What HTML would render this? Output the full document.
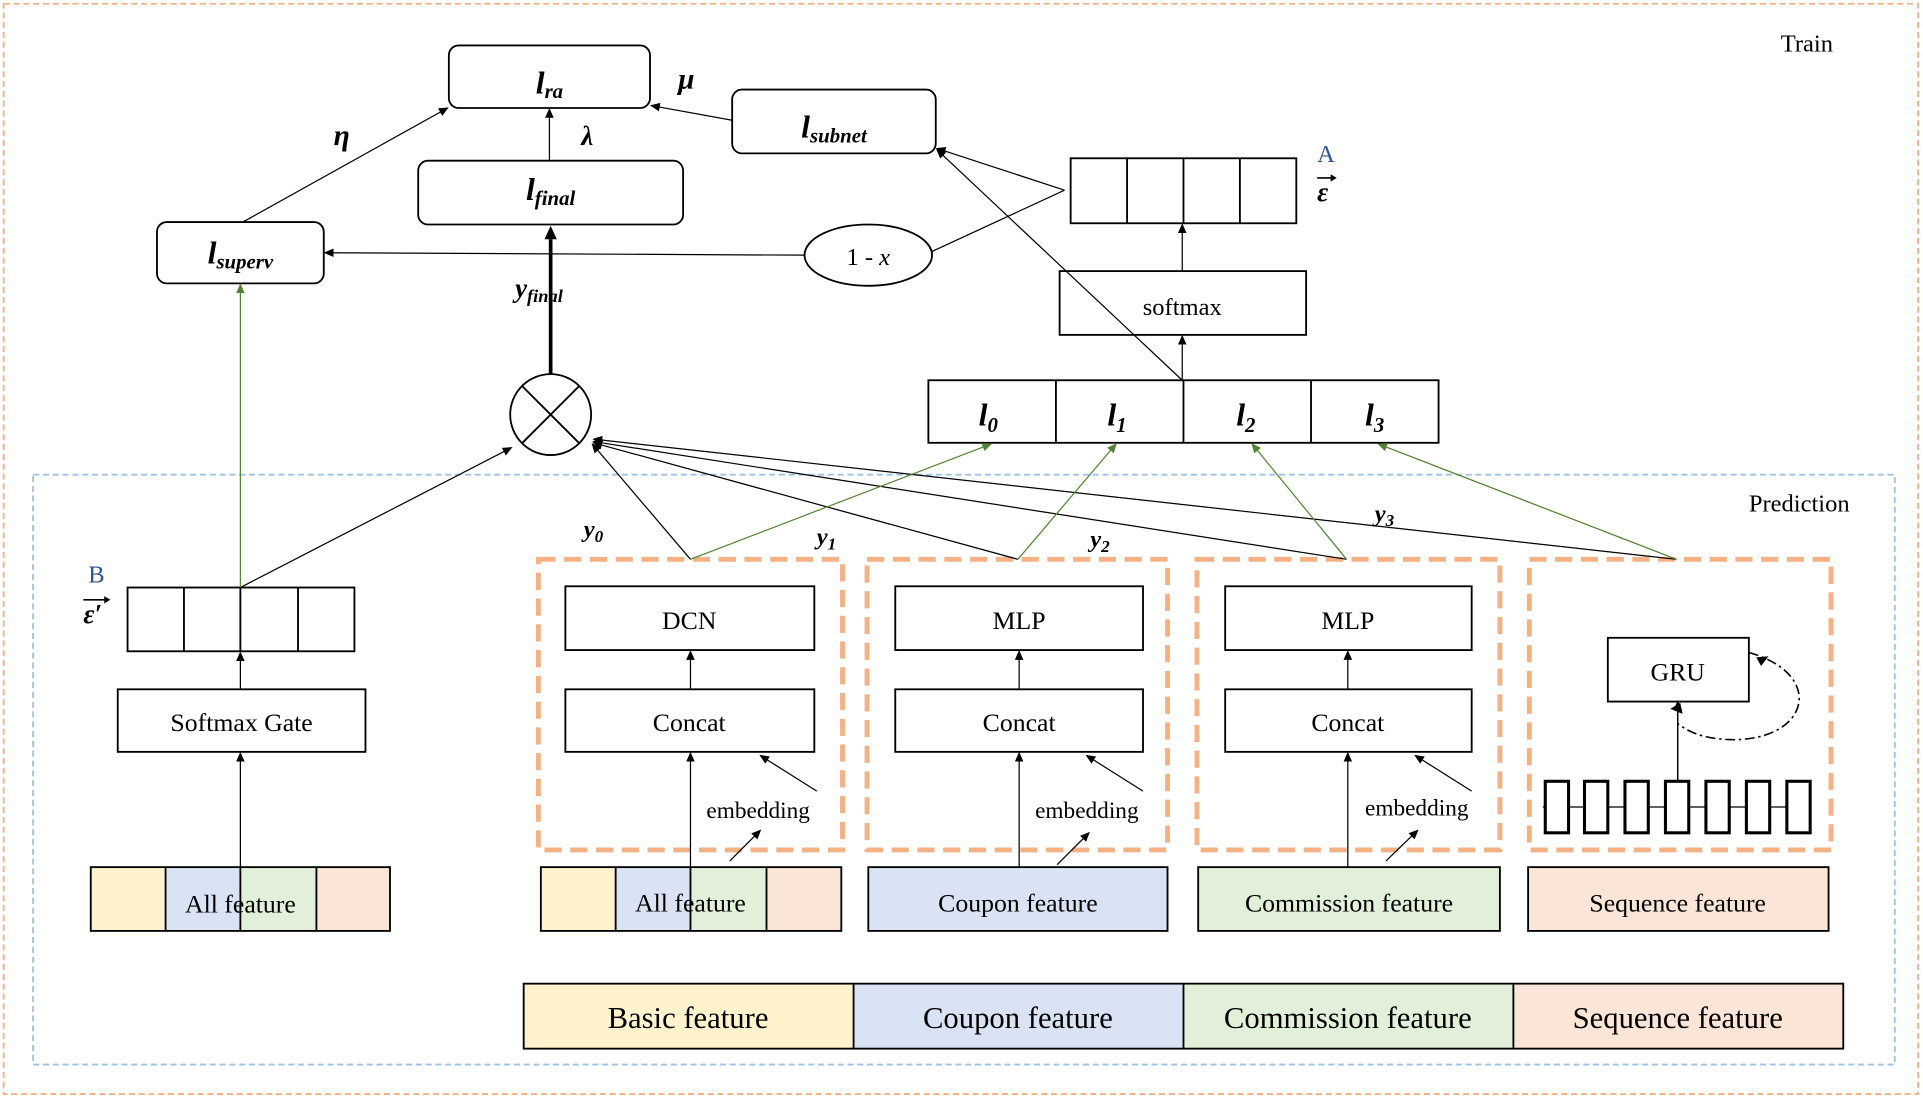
<!DOCTYPE html>
<html><head><meta charset="utf-8"><style>
html,body{margin:0;padding:0;background:#fff}
svg{display:block}
text{font-family:"Liberation Serif",serif;fill:#000}
.m{font-weight:bold;font-style:italic}
</style></head><body>
<svg width="1923" height="1099" viewBox="0 0 1568 896" xmlns="http://www.w3.org/2000/svg">
<defs>
<marker id="a" markerWidth="8" markerHeight="8" refX="7" refY="4" orient="auto" markerUnits="userSpaceOnUse"><path d="M0,0.5 L8,4 L0,7.5Z" fill="#000"/></marker>
<marker id="g" markerWidth="8" markerHeight="8" refX="7" refY="4" orient="auto" markerUnits="userSpaceOnUse"><path d="M0,0.5 L8,4 L0,7.5Z" fill="#548235"/></marker>
</defs>
<rect x="3" y="3" width="1561" height="889" fill="none" stroke="#f4b183" stroke-width="1.5" stroke-dasharray="5,3"/>
<rect x="27" y="387" width="1518" height="481" fill="none" stroke="#9dc3e6" stroke-width="1.5" stroke-dasharray="5,3"/>
<text x="1452" y="42" font-size="20">Train</text>
<text x="1426" y="417" font-size="20">Prediction</text>

<g fill="#fff" stroke="#000" stroke-width="1.5">
<rect x="366" y="37" width="164" height="51" rx="8"/>
<rect x="597" y="73" width="166" height="52" rx="8"/>
<rect x="341" y="131" width="216" height="52" rx="8"/>
<rect x="128" y="181" width="136" height="50" rx="8"/>
<ellipse cx="708" cy="208" rx="52" ry="25"/>
<rect x="873" y="129" width="184" height="53"/>
<rect x="864" y="221" width="201" height="52"/>
<rect x="757" y="310" width="416" height="51"/>
<rect x="104" y="479" width="185" height="52"/>
<rect x="96" y="562" width="202" height="51"/>
<rect x="461" y="478" width="203" height="52"/><rect x="461" y="562" width="203" height="51"/>
<rect x="730" y="478" width="202" height="52"/><rect x="730" y="562" width="202" height="51"/>
<rect x="999" y="478" width="201" height="52"/><rect x="999" y="562" width="201" height="51"/>
<rect x="1311" y="520" width="115" height="52"/>
</g>
<g stroke="#000" stroke-width="1.5">
<line x1="919" y1="129" x2="919" y2="182"/><line x1="965" y1="129" x2="965" y2="182"/><line x1="1011" y1="129" x2="1011" y2="182"/>
<line x1="861" y1="310" x2="861" y2="361"/><line x1="965" y1="310" x2="965" y2="361"/><line x1="1069" y1="310" x2="1069" y2="361"/>
<line x1="150" y1="479" x2="150" y2="531"/><line x1="196" y1="479" x2="196" y2="531"/><line x1="243" y1="479" x2="243" y2="531"/>
</g>
<circle cx="449" cy="338" r="33" fill="#fff" stroke="#000" stroke-width="1.5"/>
<line x1="426" y1="315" x2="472" y2="361" stroke="#000" stroke-width="1.5"/><line x1="472" y1="315" x2="426" y2="361" stroke="#000" stroke-width="1.5"/>

<text x="448" y="76" font-size="26" class="m" text-anchor="middle">l<tspan font-size="17" dy="4">ra</tspan></text>
<text x="680" y="112" font-size="26" class="m" text-anchor="middle">l<tspan font-size="17" dy="4">subnet</tspan></text>
<text x="449" y="163" font-size="26" class="m" text-anchor="middle">l<tspan font-size="17" dy="4">final</tspan></text>
<text x="196" y="215" font-size="26" class="m" text-anchor="middle">l<tspan font-size="17" dy="4">superv</tspan></text>
<text x="708" y="216" font-size="20" text-anchor="middle">1 - <tspan font-style="italic">x</tspan></text>
<text x="964" y="257" font-size="20" text-anchor="middle">softmax</text>
<text x="798" y="347" font-size="26" class="m">l<tspan font-size="17" dy="5">0</tspan></text>
<text x="903" y="347" font-size="26" class="m">l<tspan font-size="17" dy="5">1</tspan></text>
<text x="1008" y="347" font-size="26" class="m">l<tspan font-size="17" dy="5">2</tspan></text>
<text x="1113" y="347" font-size="26" class="m">l<tspan font-size="17" dy="5">3</tspan></text>
<text x="272" y="118" font-size="24" class="m">η</text>
<text x="474" y="118" font-size="22" class="m">λ</text>
<text x="553" y="72" font-size="24" class="m">μ</text>
<text x="420" y="242" font-size="22" class="m">y<tspan font-size="15" dy="4">final</tspan></text>
<text x="1074" y="132" font-size="20" style="fill:#2f5597">A</text>
<text x="1074" y="164" font-size="22" class="m">ε</text>
<line x1="1074" y1="145" x2="1088" y2="145" stroke="#000" stroke-width="1.3"/><path d="M1085,142 L1090,145 L1085,148Z" fill="#000"/>
<text x="72" y="475" font-size="20" style="fill:#2f5597">B</text>
<text x="68" y="508" font-size="22" class="m">ε′</text>
<line x1="68" y1="489" x2="88" y2="489" stroke="#000" stroke-width="1.3"/><path d="M85,486 L90,489 L85,492Z" fill="#000"/>
<text x="476" y="438" font-size="20" class="m">y<tspan font-size="14" dy="4">0</tspan></text>
<text x="666" y="444" font-size="20" class="m">y<tspan font-size="14" dy="4">1</tspan></text>
<text x="889" y="446" font-size="20" class="m">y<tspan font-size="14" dy="4">2</tspan></text>
<text x="1121" y="425" font-size="20" class="m">y<tspan font-size="14" dy="4">3</tspan></text>
<text x="197" y="596" font-size="21" text-anchor="middle">Softmax Gate</text>
<text x="562" y="513" font-size="21" text-anchor="middle">DCN</text>
<text x="562" y="596" font-size="21" text-anchor="middle">Concat</text>
<text x="831" y="513" font-size="21" text-anchor="middle">MLP</text>
<text x="831" y="596" font-size="21" text-anchor="middle">Concat</text>
<text x="1099" y="513" font-size="21" text-anchor="middle">MLP</text>
<text x="1099" y="596" font-size="21" text-anchor="middle">Concat</text>
<text x="1368" y="555" font-size="21" text-anchor="middle">GRU</text>
<text x="576" y="667" font-size="19">embedding</text>
<text x="844" y="667" font-size="19">embedding</text>
<text x="1113" y="665" font-size="19">embedding</text>

<g fill="none" stroke="#f4b183" stroke-width="4" stroke-dasharray="14,7">
<rect x="439" y="456" width="248" height="237"/>
<rect x="707" y="456" width="245" height="237"/>
<rect x="976" y="456" width="247" height="237"/>
<rect x="1247" y="456" width="246" height="237"/>
</g>
<line x1="1258" y1="658" x2="1477" y2="658" stroke="#000" stroke-width="1"/>
<g fill="#fff" stroke="#000" stroke-width="2.5">
<rect x="1260" y="637" width="19" height="42"/><rect x="1292" y="637" width="19" height="42"/><rect x="1325" y="637" width="19" height="42"/><rect x="1358" y="637" width="19" height="42"/><rect x="1391" y="637" width="19" height="42"/><rect x="1424" y="637" width="19" height="42"/><rect x="1457" y="637" width="19" height="42"/>
</g>
<line x1="1368" y1="637" x2="1368" y2="572" stroke="#000" stroke-width="1.2" marker-end="url(#a)"/>
<path d="M1426,532 C1490,550 1475,605 1410,603 C1385,602 1375,595 1368,590" fill="none" stroke="#000" stroke-width="1.3" stroke-dasharray="8,3,2,3"/>
<path d="M1432,536 L1442,535 L1436,543Z" fill="#000"/>
<path d="M1362,578 L1370,573 L1372,582Z" fill="#000"/>

<g stroke="none">
<rect x="74" y="707" width="61" height="52" fill="#fff2cc"/><rect x="135" y="707" width="61" height="52" fill="#dae3f3"/><rect x="196" y="707" width="62" height="52" fill="#e2f0d9"/><rect x="258" y="707" width="60" height="52" fill="#fbe5d6"/>
<rect x="441" y="707" width="61" height="52" fill="#fff2cc"/><rect x="502" y="707" width="61" height="52" fill="#dae3f3"/><rect x="563" y="707" width="62" height="52" fill="#e2f0d9"/><rect x="625" y="707" width="61" height="52" fill="#fbe5d6"/>
<rect x="708" y="707" width="244" height="52" fill="#dae3f3"/>
<rect x="977" y="707" width="246" height="52" fill="#e2f0d9"/>
<rect x="1246" y="707" width="245" height="52" fill="#fbe5d6"/>
<rect x="427" y="802" width="269" height="53" fill="#fff2cc"/><rect x="696" y="802" width="269" height="53" fill="#dae3f3"/><rect x="965" y="802" width="269" height="53" fill="#e2f0d9"/><rect x="1234" y="802" width="269" height="53" fill="#fbe5d6"/>
</g>
<g fill="none" stroke="#000" stroke-width="1.5">
<rect x="74" y="707" width="244" height="52"/><line x1="135" y1="707" x2="135" y2="759"/><line x1="196" y1="707" x2="196" y2="759"/><line x1="258" y1="707" x2="258" y2="759"/>
<rect x="441" y="707" width="245" height="52"/><line x1="502" y1="707" x2="502" y2="759"/><line x1="563" y1="707" x2="563" y2="759"/><line x1="625" y1="707" x2="625" y2="759"/>
<rect x="708" y="707" width="244" height="52"/>
<rect x="977" y="707" width="246" height="52"/>
<rect x="1246" y="707" width="245" height="52"/>
<rect x="427" y="802" width="1076" height="53"/><line x1="696" y1="802" x2="696" y2="855"/><line x1="965" y1="802" x2="965" y2="855"/><line x1="1234" y1="802" x2="1234" y2="855"/>
</g>
<text x="196" y="744" font-size="21" text-anchor="middle">All feature</text>
<text x="563" y="743" font-size="21" text-anchor="middle">All feature</text>
<text x="830" y="743" font-size="21" text-anchor="middle">Coupon feature</text>
<text x="1100" y="743" font-size="21" text-anchor="middle">Commission feature</text>
<text x="1368" y="743" font-size="21" text-anchor="middle">Sequence feature</text>
<text x="561" y="838" font-size="25" text-anchor="middle">Basic feature</text>
<text x="830" y="838" font-size="25" text-anchor="middle">Coupon feature</text>
<text x="1099" y="838" font-size="25" text-anchor="middle">Commission feature</text>
<text x="1368" y="838" font-size="25" text-anchor="middle">Sequence feature</text>

<g stroke="#000" stroke-width="1" fill="none" marker-end="url(#a)">
<line x1="448" y1="131" x2="448" y2="89"/>
<line x1="198" y1="181" x2="365" y2="88"/>
<line x1="597" y1="98" x2="531" y2="86"/>
<line x1="656" y1="208" x2="265" y2="206"/>
<line x1="868" y1="155" x2="764" y2="121"/>
<line x1="964" y1="310" x2="764" y2="122"/>
<line x1="964" y1="310" x2="964" y2="274"/>
<line x1="964" y1="221" x2="964" y2="183"/>
<line x1="196" y1="479" x2="417" y2="365"/>
<line x1="563" y1="456" x2="483" y2="362"/>
<line x1="830" y1="456" x2="484" y2="361"/>
<line x1="1098" y1="456" x2="484" y2="360"/>
<line x1="1367" y1="456" x2="484" y2="358"/>
<line x1="196" y1="707" x2="196" y2="614"/>
<line x1="196" y1="562" x2="196" y2="532"/>
<line x1="563" y1="562" x2="563" y2="531"/>
<line x1="831" y1="562" x2="831" y2="531"/>
<line x1="1099" y1="562" x2="1099" y2="531"/>
<line x1="563" y1="707" x2="563" y2="614"/>
<line x1="831" y1="707" x2="831" y2="614"/>
<line x1="1099" y1="707" x2="1099" y2="614"/>
<line x1="666" y1="645" x2="620" y2="616"/>
<line x1="932" y1="645" x2="886" y2="616"/>
<line x1="1200" y1="645" x2="1154" y2="616"/>
<line x1="595" y1="702" x2="620" y2="677"/>
<line x1="862" y1="705" x2="888" y2="679"/>
<line x1="1130" y1="702" x2="1156" y2="677"/>
</g>
<line x1="868" y1="155" x2="760" y2="205" stroke="#000" stroke-width="1"/>
<line x1="449" y1="305" x2="449" y2="195" stroke="#000" stroke-width="3"/>
<path d="M444,195 L449,184 L454,195Z" fill="#000"/>
<g stroke="#548235" stroke-width="1" fill="none" marker-end="url(#g)">
<line x1="196" y1="479" x2="196" y2="232"/>
<line x1="563" y1="456" x2="808" y2="362"/>
<line x1="830" y1="456" x2="910" y2="362"/>
<line x1="1098" y1="456" x2="1021" y2="362"/>
<line x1="1367" y1="456" x2="1124" y2="362"/>
</g>
</svg>
</body></html>
